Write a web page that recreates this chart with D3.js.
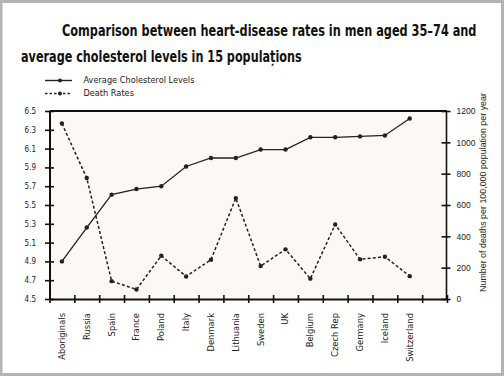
<!DOCTYPE html>
<html>
<head>
<meta charset="utf-8">
<script src="https://cdn.jsdelivr.net/npm/d3@7"></script>
<style>
  body { margin: 0; background: #fff; }
  svg { display: block; }
</style>
</head>
<body>
<svg id="drawing_region"></svg>
<script>
// data
const countries = ["Aboriginals", "Russia", "Spain", "France", "Poland", "Italy", "Denmark",
    "Lithuania", "Sweden", "UK", "Belgium", "Czech Rep", "Germany", "Iceland", "Switzerland"];
const cholesterol = [4.90, 5.26, 5.61, 5.67, 5.70, 5.91, 6.00, 6.00, 6.09, 6.09, 6.22, 6.22, 6.23, 6.24, 6.42];
const deathRates = [1120, 772, 114, 61, 276, 144, 251, 644, 210, 317, 130, 476, 253, 270, 146];
const leftTicks = [4.5, 4.7, 4.9, 5.1, 5.3, 5.5, 5.7, 5.9, 6.1, 6.3, 6.5];
const rightTicks = [0, 200, 400, 600, 800, 1000, 1200];
const titleLines = ["Comparison between heart-disease rates in men aged 35\u201374 and",
    "average cholesterol levels in 15 popula\u021bions"];
const seriesNames = ["Average Cholesterol Levels", "Death Rates"];

var width = 504;
var height = 376;
var margin = { top: 111, right: 57, bottom: 77, left: 49.5 };
var plotRight = width - margin.right;
var plotBottom = height - margin.bottom;

var svg = d3.select('#drawing_region')
    .attr('width', width)
    .attr('height', height);

// grey frame around the picture
svg.append('rect').attr('width', width).attr('height', height).attr('fill', '#b4b4b4');
svg.append('rect').attr('x', 2.5).attr('y', 3).attr('width', width - 5.5).attr('height', height - 6)
    .attr('fill', '#fff');

// plot background
svg.append('rect')
    .attr('x', margin.left).attr('y', margin.top)
    .attr('width', plotRight - margin.left).attr('height', plotBottom - margin.top)
    .attr('fill', '#fcf8f5');

// scales
const xEdge = d3.scaleLinear().domain([0, countries.length + 1]).range([margin.left, plotRight]);
const xBand = d3.scaleBand().domain([...countries, ""]).range([margin.left, plotRight]);
const yLeft = d3.scaleLinear().domain([4.5, 6.5]).range([plotBottom, margin.top]);
const yRight = d3.scaleLinear().domain([0, 1200]).range([plotBottom, margin.top]);
const xc = c => xBand(c) + xBand.bandwidth() / 2;

// title: tall condensed bold, squeezed horizontally to the width seen in the picture
const titleWidths = [415, 281];
const titlePos = [[62, 36], [21, 62]];
svg.selectAll('.title')
    .data(titleLines)
    .enter()
    .append('text')
    .attr('class', 'title')
    .style('font-family', '"Liberation Sans Narrow", "DejaVu Sans Condensed", sans-serif')
    .style('font-weight', 'bold')
    .style('font-size', '16.5px')
    .style('fill', '#111')
    .text(d => d)
    .each(function(d, i) {
        const w = this.getComputedTextLength();
        const sx = Math.min(1, titleWidths[i] / w);
        d3.select(this).attr('transform',
            `translate(${titlePos[i][0]},${titlePos[i][1]}) scale(${sx.toFixed(3)},1)`);
    });

// top frame line
svg.append('line')
    .attr('x1', margin.left).attr('x2', plotRight)
    .attr('y1', margin.top).attr('y2', margin.top)
    .attr('stroke', '#111').attr('stroke-width', 1.8);

// left axis
const gLeft = svg.append('g')
    .attr('transform', `translate(${margin.left},0)`)
    .call(d3.axisLeft(yLeft).tickValues(leftTicks).tickSize(4.5).tickSizeOuter(0).tickPadding(9)
        .tickFormat(d3.format('.1f')));
gLeft.select('.domain').attr('stroke', '#111').attr('stroke-width', 2);
gLeft.selectAll('.tick line').attr('x1', 4.5).attr('stroke', '#111').attr('stroke-width', 1.6);
gLeft.selectAll('.tick text')
    .style('font-family', '"DejaVu Sans Condensed", "DejaVu Sans", sans-serif')
    .style('font-size', '8px').style('fill', '#222');

// right axis
const gRight = svg.append('g')
    .attr('transform', `translate(${plotRight - 1},0)`)
    .call(d3.axisRight(yRight).tickValues(rightTicks).tickSize(4.5).tickSizeOuter(0).tickPadding(6)
        .tickFormat(d3.format('d')));
gRight.select('.domain').attr('stroke', '#111').attr('stroke-width', 1.6);
gRight.selectAll('.tick line').attr('x1', -4.5).attr('stroke', '#111').attr('stroke-width', 1.6);
gRight.selectAll('.tick text')
    .style('font-family', '"Liberation Sans", Arial, sans-serif')
    .style('font-size', '8.5px').style('fill', '#222');

svg.append('text')
    .attr('transform', `translate(486,${(93 + 292) / 2}) rotate(-90)`)
    .attr('text-anchor', 'middle')
    .style('font-family', '"Liberation Sans", Arial, sans-serif')
    .style('font-size', '8.9px')
    .style('fill', '#222')
    .text('Number of deaths per 100,000 population per year');

// bottom axis
const gBottom = svg.append('g')
    .attr('transform', `translate(0,${plotBottom})`)
    .call(d3.axisBottom(xEdge).tickValues(d3.range(countries.length + 2)).tickSize(4).tickSizeOuter(0)
        .tickFormat(''));
gBottom.select('.domain').attr('stroke', '#111').attr('stroke-width', 2);
gBottom.selectAll('.tick line').attr('y1', -4).attr('stroke', '#111').attr('stroke-width', 1.6);

svg.append('g')
    .selectAll('text')
    .data(countries)
    .enter()
    .append('text')
    .attr('transform', d => `translate(${xc(d)},${plotBottom + 14}) rotate(-90)`)
    .attr('text-anchor', 'end')
    .attr('dy', '0.35em')
    .style('font-family', '"DejaVu Sans", Verdana, sans-serif')
    .style('font-size', '8.4px')
    .style('fill', '#222')
    .text(d => d);

// lines
const cholLine = d3.line().x((d, i) => xc(countries[i])).y(d => yLeft(d));
const deathLine = d3.line().x((d, i) => xc(countries[i])).y(d => yRight(d));

svg.append('path')
    .datum(cholesterol)
    .attr('d', cholLine)
    .attr('fill', 'none')
    .attr('stroke', '#222')
    .attr('stroke-width', 1.3);

svg.append('path')
    .datum(deathRates)
    .attr('d', deathLine)
    .attr('fill', 'none')
    .attr('stroke', '#222')
    .attr('stroke-width', 1.5)
    .attr('stroke-dasharray', '3,2.2');

svg.append('g').selectAll('circle')
    .data(cholesterol)
    .enter()
    .append('circle')
    .attr('cx', (d, i) => xc(countries[i]))
    .attr('cy', d => yLeft(d))
    .attr('r', 2.2)
    .attr('fill', '#222');

svg.append('g').selectAll('circle')
    .data(deathRates)
    .enter()
    .append('circle')
    .attr('cx', (d, i) => xc(countries[i]))
    .attr('cy', d => yRight(d))
    .attr('r', 2.2)
    .attr('fill', '#222');

// legend
const legend = svg.append('g')
    .selectAll('g')
    .data(seriesNames)
    .enter()
    .append('g')
    .attr('transform', (d, i) => `translate(45,${80.5 + i * 13})`);

legend.append('line')
    .attr('x1', 0).attr('x2', 27)
    .attr('stroke', '#222')
    .attr('stroke-width', (d, i) => i === 0 ? 1.4 : 1.3)
    .attr('stroke-dasharray', (d, i) => i === 0 ? null : '2.5,2');
legend.append('circle').attr('cx', 15).attr('r', 2).attr('fill', '#222');
legend.append('text')
    .attr('x', 38.5)
    .attr('dy', '0.35em')
    .style('font-family', '"DejaVu Sans", Verdana, sans-serif')
    .style('font-size', '8.2px')
    .style('fill', '#222')
    .text(d => d);
</script>
</body>
</html>
